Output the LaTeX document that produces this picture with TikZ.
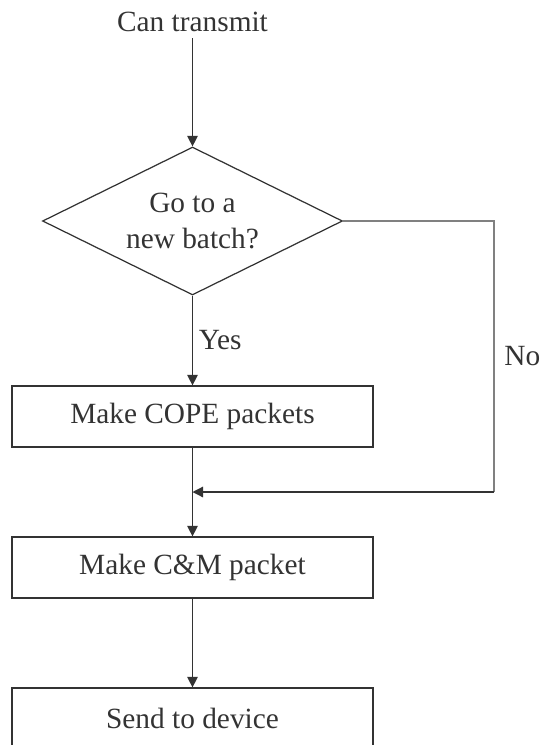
\documentclass[tikz,border=0pt]{standalone}
\usepackage{fontspec}
\setmainfont{Liberation Serif}
\usetikzlibrary{shapes.geometric,arrows.meta}
\definecolor{ink}{rgb}{0.2,0.2,0.2}
\definecolor{branch gray}{rgb}{0.5,0.5,0.5}

\begin{document}
\begin{tikzpicture}[x=0.02cm, y=-0.02cm,
		every node/.style={font=\fontsize{16.7}{20.5}\selectfont, text=ink},
		box/.style={draw=ink, line width=0.7pt, minimum width=7.22cm, minimum height=1.22cm, inner sep=0},
		decision/.style={draw=ink, line width=0.7pt, diamond, aspect=2, minimum width=6cm, minimum height=2.96cm, inner sep=0, align=center},
		flow/.style={draw=ink, line width=0.7pt, -{Triangle[length=6pt, width=6pt]}},
		branch/.style={draw=branch gray, line width=1.1pt}]
		\useasboundingbox (0, 0) rectangle (544, 745);
		% steps
		\node (start) at (192.5, 22) {Can transmit};
		\node[decision] (choice) at (192.5, 221) {Go to a\\new batch?};
		\node[box] (cope) at (192.5, 416.5) {Make COPE packets};
		\node[box] (cm) at (192.5, 567.5) {Make C\&M packet};
		\node[box] (send) at (192.5, 718.5) {Send to device};
		% points of the No branch
		\coordinate (join) at (192.5, 492);
		\coordinate (turn a) at (494, 221);
		\coordinate (turn b) at (494, 492);
		% connectors
		\draw[flow] (start) -- (choice);
		\draw[flow] (choice) -- node[right] {Yes} (cope);
		\draw[flow] (cope) -- (cm);
		\draw[flow] (cm) -- (send);
		\draw[branch] (choice.east) -- (turn a) -- node[right, xshift=2pt] {No} (turn b);
		\draw[flow] (turn b) -- (join);
	\end{tikzpicture}
\end{document}
